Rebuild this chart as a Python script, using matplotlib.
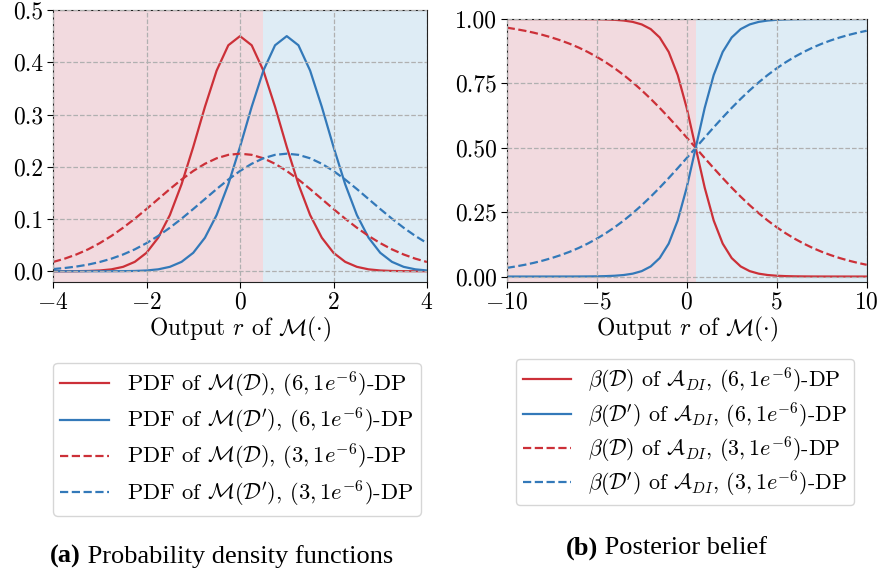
import matplotlib
matplotlib.use('Agg')
import matplotlib.pyplot as plt

plt.rcParams['font.family'] = 'serif'
plt.rcParams['font.serif'] = ['cmr10']
plt.rcParams['mathtext.fontset'] = 'cm'
plt.rcParams['axes.formatter.use_mathtext'] = True

# (a) densities, output r sampled every 0.25 on [-4, 4]
r_pdf = [-4.0, -3.75, -3.5, -3.25, -3.0, -2.75, -2.5, -2.25, -2.0, -1.75, -1.5,
         -1.25, -1.0, -0.75, -0.5, -0.25, 0.0, 0.25, 0.5, 0.75, 1.0, 1.25, 1.5,
         1.75, 2.0, 2.25, 2.5, 2.75, 3.0, 3.25, 3.5, 3.75, 4.0]
pdf_d_eps6 = [0.00002, 0.00006, 0.00019, 0.00054, 0.00147, 0.00366, 0.00845, 0.0180,
              0.0353, 0.0642, 0.1076, 0.1665, 0.238, 0.3147, 0.384, 0.4325, 0.45,
              0.4325, 0.384, 0.3147, 0.238, 0.1665, 0.1076, 0.0642, 0.0353, 0.0180,
              0.00845, 0.00366, 0.00147, 0.00054, 0.00019, 0.00006, 0.00002]
pdf_d2_eps6 = [0.0, 0.0, 0.000001, 0.000004, 0.00002, 0.00006, 0.00019, 0.00054,
               0.00147, 0.00366, 0.00845, 0.0180, 0.0353, 0.0642, 0.1076, 0.1665,
               0.238, 0.3147, 0.384, 0.4325, 0.45, 0.4325, 0.384, 0.3147, 0.238,
               0.1665, 0.1076, 0.0642, 0.0353, 0.0180, 0.00845, 0.00366, 0.00147]
pdf_d_eps3 = [0.0177, 0.0241, 0.0321, 0.0419, 0.0538, 0.0676, 0.0833, 0.1006, 0.1191,
              0.1382, 0.1573, 0.1755, 0.1919, 0.2057, 0.2162, 0.2228, 0.225, 0.2228,
              0.2162, 0.2057, 0.1919, 0.1755, 0.1573, 0.1382, 0.1191, 0.1006, 0.0833,
              0.0676, 0.0538, 0.0419, 0.0321, 0.0241, 0.0177]
pdf_d2_eps3 = [0.0042, 0.0062, 0.0090, 0.0127, 0.0177, 0.0241, 0.0321, 0.0419, 0.0538,
               0.0676, 0.0833, 0.1006, 0.1191, 0.1382, 0.1573, 0.1755, 0.1919, 0.2057,
               0.2162, 0.2228, 0.225, 0.2228, 0.2162, 0.2057, 0.1919, 0.1755, 0.1573,
               0.1382, 0.1191, 0.1006, 0.0833, 0.0676, 0.0538]

# (b) posterior belief, output r sampled every 0.5 on [-10, 10]
r_belief = [-10.0, -9.5, -9.0, -8.5, -8.0, -7.5, -7.0, -6.5, -6.0, -5.5, -5.0, -4.5,
            -4.0, -3.5, -3.0, -2.5, -2.0, -1.5, -1.0, -0.5, 0.0, 0.5, 1.0, 1.5, 2.0,
            2.5, 3.0, 3.5, 4.0, 4.5, 5.0, 5.5, 6.0, 6.5, 7.0, 7.5, 8.0, 8.5, 9.0,
            9.5, 10.0]
belief_d_eps6 = [1.0, 1.0, 1.0, 1.0, 0.99998, 0.99996, 0.99993, 0.99987, 0.99976,
                 0.99954, 0.99912, 0.99834, 0.99686, 0.99406, 0.98880, 0.97896,
                 0.96084, 0.92825, 0.87214, 0.78249, 0.65475, 0.5, 0.34525, 0.21751,
                 0.12786, 0.07175, 0.03916, 0.02104, 0.01120, 0.00594, 0.00314,
                 0.00166, 0.00088, 0.00046, 0.00024, 0.00013, 0.00007, 0.00004,
                 0.00002, 0.00001, 0.00001]
belief_d2_eps6 = [0.0, 0.0, 0.0, 0.0, 0.00002, 0.00004, 0.00007, 0.00013, 0.00024,
                  0.00046, 0.00088, 0.00166, 0.00314, 0.00594, 0.01120, 0.02104,
                  0.03916, 0.07175, 0.12786, 0.21751, 0.34525, 0.5, 0.65475, 0.78249,
                  0.87214, 0.92825, 0.96084, 0.97896, 0.98880, 0.99406, 0.99686,
                  0.99834, 0.99912, 0.99954, 0.99976, 0.99987, 0.99993, 0.99996,
                  0.99998, 0.99999, 1.0]
belief_d_eps3 = [0.9665, 0.9608, 0.9544, 0.9469, 0.9382, 0.9282, 0.9168, 0.9038,
                 0.8890, 0.8721, 0.8532, 0.8320, 0.8085, 0.7825, 0.7540, 0.7231,
                 0.6900, 0.6548, 0.6177, 0.5793, 0.5399, 0.5, 0.4601, 0.4207, 0.3823,
                 0.3452, 0.3100, 0.2769, 0.2460, 0.2175, 0.1915, 0.1680, 0.1468,
                 0.1279, 0.1110, 0.0962, 0.0832, 0.0718, 0.0618, 0.0531, 0.0456]
belief_d2_eps3 = [0.0335, 0.0392, 0.0456, 0.0531, 0.0618, 0.0718, 0.0832, 0.0962,
                  0.1110, 0.1279, 0.1468, 0.1680, 0.1915, 0.2175, 0.2460, 0.2769,
                  0.3100, 0.3452, 0.3823, 0.4207, 0.4601, 0.5, 0.5399, 0.5793, 0.6177,
                  0.6548, 0.6900, 0.7231, 0.7540, 0.7825, 0.8085, 0.8320, 0.8532,
                  0.8721, 0.8890, 0.9038, 0.9168, 0.9282, 0.9382, 0.9469, 0.9544]

threshold = 0.5
red = '#cc3038'
blue = '#3379b9'
red_bg = '#f2dadf'
blue_bg = '#deecf5'

fig = plt.figure(figsize=(8.8, 5.78), dpi=100)
ax1 = fig.add_axes([53 / 880, 1 - 281.7 / 578, 374 / 880, 271.7 / 578])
ax2 = fig.add_axes([506.7 / 880, 1 - 281.7 / 578, 360 / 880, 262.7 / 578])

# (a)
ax1.axvspan(-4, threshold, color=red_bg, lw=0, zorder=0)
ax1.axvspan(threshold, 4, color=blue_bg, lw=0, zorder=0)
ax1.plot(r_pdf, pdf_d_eps6, color=red, lw=1.6,
         label=r'PDF of $\mathcal{M}(\mathcal{D})$, $(6, 1e^{-6})$-DP')
ax1.plot(r_pdf, pdf_d2_eps6, color=blue, lw=1.6,
         label=r"PDF of $\mathcal{M}(\mathcal{D}')$, $(6, 1e^{-6})$-DP")
ax1.plot(r_pdf, pdf_d_eps3, color=red, lw=1.6, ls='--',
         label=r'PDF of $\mathcal{M}(\mathcal{D})$, $(3, 1e^{-6})$-DP')
ax1.plot(r_pdf, pdf_d2_eps3, color=blue, lw=1.6, ls='--',
         label=r"PDF of $\mathcal{M}(\mathcal{D}')$, $(3, 1e^{-6})$-DP")
ax1.set_xlim(-4, 4)
ax1.set_ylim(-0.02, 0.5)
ax1.set_xticks([-4, -2, 0, 2, 4])
ax1.set_yticks([0.0, 0.1, 0.2, 0.3, 0.4, 0.5])
ax1.set_yticklabels(['0.0', '0.1', '0.2', '0.3', '0.4', '0.5'])
ax1.set_xlabel(r'Output $r$ of $\mathcal{M}(\cdot)$', fontsize=17, labelpad=1)

# (b)
ax2.axvspan(-10, threshold, color=red_bg, lw=0, zorder=0)
ax2.axvspan(threshold, 10, color=blue_bg, lw=0, zorder=0)
ax2.plot(r_belief, belief_d_eps6, color=red, lw=1.6,
         label=r'$\beta(\mathcal{D})$ of $\mathcal{A}_{DI}$, $(6, 1e^{-6})$-DP')
ax2.plot(r_belief, belief_d2_eps6, color=blue, lw=1.6,
         label=r"$\beta(\mathcal{D}')$ of $\mathcal{A}_{DI}$, $(6, 1e^{-6})$-DP")
ax2.plot(r_belief, belief_d_eps3, color=red, lw=1.6, ls='--',
         label=r'$\beta(\mathcal{D})$ of $\mathcal{A}_{DI}$, $(3, 1e^{-6})$-DP')
ax2.plot(r_belief, belief_d2_eps3, color=blue, lw=1.6, ls='--',
         label=r"$\beta(\mathcal{D}')$ of $\mathcal{A}_{DI}$, $(3, 1e^{-6})$-DP")
ax2.set_xlim(-10, 10)
ax2.set_ylim(-0.02, 1.0)
ax2.set_xticks([-10, -5, 0, 5, 10])
ax2.set_yticks([0.0, 0.25, 0.5, 0.75, 1.0])
ax2.set_yticklabels(['0.00', '0.25', '0.50', '0.75', '1.00'])
ax2.set_xlabel(r'Output $r$ of $\mathcal{M}(\cdot)$', fontsize=17, labelpad=1)

for ax in (ax1, ax2):
    ax.grid(True, ls='--', color='#b0b0b0', lw=0.9)
    ax.set_axisbelow(False)
    ax.tick_params(labelsize=17, length=4, pad=3)
    for sp in ax.spines.values():
        sp.set_color('#222222')

leg1 = fig.legend(*ax1.get_legend_handles_labels(), loc='upper left',
                  bbox_to_anchor=(53 / 880, 1 - 362.7 / 578), fontsize=16.2,
                  handlelength=2.2, handletextpad=0.8, labelspacing=0.28,
                  borderpad=0.3, borderaxespad=0, frameon=True, fancybox=True)
leg2 = fig.legend(*ax2.get_legend_handles_labels(), loc='upper left',
                  bbox_to_anchor=(516 / 880, 1 - 359 / 578), fontsize=15.8,
                  handlelength=2.2, handletextpad=0.8, labelspacing=0.2,
                  borderpad=0.3, borderaxespad=0, frameon=True, fancybox=True)


def caption(xc, yc, tag, rest):
    # bold tag followed by regular text, centred as a whole
    renderer = fig.canvas.get_renderer()
    t1 = fig.text(0, yc, tag, family='Liberation Serif', fontsize=19,
                  weight='bold', va='center')
    t2 = fig.text(0, yc, ' ' + rest, family='Liberation Serif', fontsize=19,
                  va='center')
    w1 = t1.get_window_extent(renderer).width / fig.bbox.width
    w2 = t2.get_window_extent(renderer).width / fig.bbox.width
    x0 = xc - (w1 + w2) / 2
    t1.set_x(x0)
    t2.set_x(x0 + w1)


caption(221.7 / 880, 1 - 556.7 / 578, '(a)', 'Probability density functions')
caption(666.3 / 880, 1 - 548.3 / 578, '(b)', 'Posterior belief')

fig.savefig('out.png', dpi=100)
